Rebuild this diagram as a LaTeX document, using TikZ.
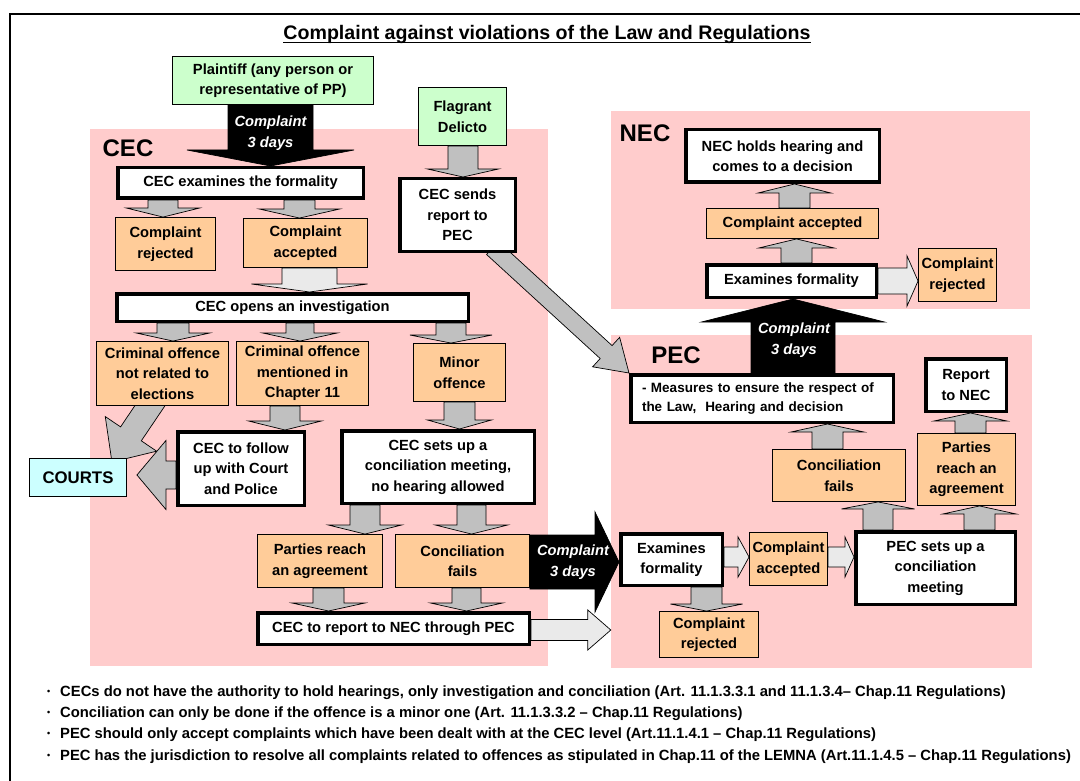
\documentclass[tikz,border=0pt]{standalone}
\usepackage{fontspec}
\setmainfont{Liberation Sans}
\usetikzlibrary{calc}
\definecolor{pinkbg}{HTML}{FFCCCC}
\definecolor{orangebox}{HTML}{FFCC99}
\definecolor{greenbox}{HTML}{CCFFCC}
\definecolor{cyanbox}{HTML}{CCFFFF}
\definecolor{grayarr}{HTML}{C0C0C0}
\definecolor{lightarr}{HTML}{EAEAEA}
\pgfdeclarelayer{regionlayer}
\pgfdeclarelayer{arrowlayer}
\pgfsetlayers{regionlayer,arrowlayer,main}
\newcommand\mainf{\fontsize{14.7}{20.5}\selectfont\bfseries}
% block arrow: style, start, end, shaft half width, head half width, head length
\newcommand\blk[6]{%
  \coordinate (bkA) at (#2);
  \coordinate (bkB) at (#3);
  \coordinate (bkH) at ($(bkB)!#6pt!(bkA)$);
  \path[#1] ($(bkA)!#4pt!90:(bkB)$) -- ($(bkH)!#4pt!90:(bkB)$) -- ($(bkH)!#5pt!90:(bkB)$)
    -- (bkB) -- ($(bkH)!#5pt!-90:(bkB)$) -- ($(bkH)!#4pt!-90:(bkB)$) -- ($(bkA)!#4pt!-90:(bkB)$) -- cycle;}
\newcommand\vblk[7]{\coordinate (bkX) at (#2,0); \blk{#1}{bkX |- #3}{bkX |- #4}{#5}{#6}{#7}}
\newcommand\hblk[7]{\coordinate (bkY) at (0,#2); \blk{#1}{bkY -| #3}{bkY -| #4}{#5}{#6}{#7}}
\newcommand\bul{\makebox[13pt][l]{\fontsize{9}{9}\selectfont\raisebox{1.5pt}{•}}}
\begin{document}
\begin{tikzpicture}[x=1pt,y=-1pt,
  sz/.style 2 args={minimum width=#1, minimum height=#2},
  tbox/.style={draw=black, line width=3.5pt, fill=white, align=center, inner sep=0pt, font=\mainf},
  obox/.style={draw=black, line width=0.9pt, fill=orangebox, align=center, inner sep=0pt, font=\mainf},
  gbox/.style={draw=black, line width=0.9pt, fill=greenbox, align=center, inner sep=0pt, font=\mainf},
  cbox/.style={draw=black, line width=0.9pt, fill=cyanbox, align=center, inner sep=0pt, font=\fontsize{16.8}{20}\selectfont\bfseries},
  garr/.style={fill=grayarr, draw=black, line width=0.7pt},
  larr/.style={fill=lightarr, draw=black, line width=0.7pt},
  barr/.style={fill=black, draw=black, line width=0.7pt},
  region/.style={fill=pinkbg, draw=none, inner sep=0pt},
  lbl/.style={font=\fontsize{24}{24}\selectfont\bfseries, inner sep=0pt},
  arrtxt/.style={text=white, font=\fontsize{14.7}{20.5}\selectfont\bfseries\itshape, align=center, inner sep=0pt},
  foot/.style={font=\fontsize{14.8}{21}\selectfont\bfseries, inner sep=0pt, anchor=base west}]
\useasboundingbox (0,0) rectangle (1080,781);

\begin{pgfonlayer}{regionlayer}
  \fill[white] (0,0) rectangle (1080,781);
  \draw[line width=2pt] (1090,14) -- (10,14) -- (10,790);
  \node[region, sz={458}{537}] (cecreg) at (319,397.5) {};
  \node[region, sz={419}{198}] (necreg) at (820.5,210) {};
  \node[region, sz={421}{333}] (pecreg) at (821.5,501.5) {};
\end{pgfonlayer}

% title
\node[anchor=base, font=\fontsize{19.6}{22}\selectfont\bfseries, inner sep=0pt] (title) at (547,40) {Complaint against violations of the Law and Regulations};
\draw[line width=1.4pt] ([yshift=-2.5pt]title.base west) -- ([yshift=-2.5pt]title.base east);

% region labels
\node[lbl] (ceclbl) at (128,148) {CEC};
\node[lbl] (neclbl) at (645,133) {NEC};
\node[lbl] (peclbl) at (676,355) {PEC};

% CEC part
\node[gbox, sz={201}{48}] (plaintiff) at (273,80.5) {Plaintiff (any person or\\representative of PP)};
\node[gbox, sz={88}{58}] (flagrant) at (462.5,116.5) {Flagrant\\Delicto};
\node[tbox, sz={245.5}{30.5}] (cecexam) at (240.5,183) {CEC examines the formality};
\node[obox, sz={100}{53}] (rej1) at (165.5,244) {Complaint\\rejected};
\node[obox, sz={124}{49}] (acc1) at (305.5,243) {Complaint\\accepted};
\node[tbox, sz={115.5}{72.5}] (cecsends) at (457.5,215) {CEC sends\\report to\\PEC};
\node[tbox, sz={351.5}{27.5}] (invest) at (292.5,307.5) {CEC opens an investigation};
\node[obox, sz={132}{64}] (crim1) at (162.5,373.5) {Criminal offence\\not related to\\elections};
\node[obox, sz={132}{64}] (crim2) at (302.5,373.5) {Criminal offence\\mentioned in\\Chapter 11};
\node[obox, sz={92}{58}] (minor) at (459.5,372.5) {Minor\\offence};
\node[tbox, sz={126.5}{73.5}] (follow) at (241,468.5) {CEC to follow\\up with Court\\and Police};
\node[tbox, sz={192.5}{72.5}] (setsup) at (438,467) {CEC sets up a\\conciliation meeting,\\no hearing allowed};
\node[cbox, sz={97}{38}] (courts) at (78,477.5) {COURTS};
\node[obox, sz={125}{53}] (parties1) at (320,561) {Parties reach\\an agreement};
\node[obox, sz={134}{53}] (fails1) at (462.5,561) {Conciliation\\fails};
\node[tbox, sz={271.5}{31.5}] (report1) at (393.5,628.5) {CEC to report to NEC through PEC};

% PEC part
\node[tbox, sz={101.5}{51.5}] (pexam) at (671.5,559.5) {Examines\\formality};
\node[obox, sz={78}{53}] (pacc) at (788.5,559) {Complaint\\accepted};
\node[tbox, sz={159.5}{72.5}] (psets) at (935.5,568) {PEC sets up a\\conciliation\\meeting};
\node[obox, sz={99}{46}] (prej) at (709,634.5) {Complaint\\rejected};
\node[obox, sz={133}{52}] (pfails) at (839,475.5) {Conciliation\\fails};
\node[obox, sz={98}{72}] (pparties) at (966.5,469.5) {Parties\\reach an\\agreement};
\node[tbox, sz={80.5}{52.5}] (preport) at (966,385) {Report\\to NEC};
\node[tbox, sz={262.5}{47.5}, text width=240pt, align=left, font=\fontsize{13.5}{19.5}\selectfont\bfseries] (measures) at (762,398.5) {- Measures to ensure the respect of\\the Law,~ Hearing and decision};

% NEC part
\node[tbox, sz={193.5}{52.5}] (nholds) at (782.5,156) {NEC holds hearing and\\comes to a decision};
\node[obox, sz={172}{30}] (nacc) at (792.5,223.5) {Complaint accepted};
\node[tbox, sz={169.5}{32.5}] (nexam) at (791.5,281) {Examines formality};
\node[obox, sz={78}{53}] (nrej) at (957.5,275) {Complaint\\rejected};

\coordinate (courtstip) at ($(courts.east)+(10,0)$);

\begin{pgfonlayer}{arrowlayer}
  \vblk{garr}{163}{cecexam.south}{rej1.north}{15}{36.5}{9}
  \vblk{garr}{299.5}{cecexam.south}{acc1.north}{15.5}{40}{9}
  \vblk{larr}{309.5}{acc1.south}{invest.north}{27.5}{58}{8}
  \vblk{garr}{463}{flagrant.south}{cecsends.north}{15}{35.5}{8}
  \vblk{garr}{173}{invest.south}{crim1.north}{16}{36.5}{8}
  \vblk{garr}{300}{invest.south}{crim2.north}{14}{37}{8}
  \vblk{garr}{451}{invest.south}{minor.north}{15}{41}{8}
  \vblk{garr}{285}{crim2.south}{follow.north}{15}{36.5}{9}
  \vblk{garr}{459.5}{minor.south}{setsup.north}{15.5}{32}{9}
  \vblk{garr}{365}{setsup.south}{parties1.north}{15}{36.5}{9}
  \vblk{garr}{471.5}{setsup.south}{fails1.north}{14.5}{36}{9}
  \vblk{garr}{328.5}{parties1.south}{report1.north}{15.5}{36.5}{8}
  \vblk{garr}{466.5}{fails1.south}{report1.north}{14.5}{36}{8}
  \blk{garr}{$(crim1.south)+(-6,-10)$}{$(courts.north east)+(-15,4)$}{12.5}{31}{34}
  \hblk{garr}{475}{follow.west}{courtstip}{14}{34.5}{29}
  \blk{garr}{$(cecsends.south)+(35,-5)$}{measures.north west}{8.8}{20}{31}
  \vblk{garr}{706.5}{pexam.south}{prej.north}{15.5}{36}{7}
  \vblk{garr}{878}{psets.north}{pfails.south}{15}{36.5}{7}
  \vblk{garr}{979.5}{psets.north}{pparties.south}{15.5}{36.5}{8}
  \vblk{garr}{827.5}{pfails.north}{measures.south}{15.5}{36.5}{8}
  \vblk{garr}{970.5}{pparties.north}{preport.south}{15.5}{36.5}{8}
  \vblk{garr}{796.5}{nexam.north}{nacc.south}{15.5}{37.5}{9}
  \vblk{garr}{794.5}{nacc.north}{nholds.south}{15.5}{36.5}{9}
  \hblk{larr}{630}{report1.east}{pecreg.west}{10.5}{20}{23}
  \hblk{larr}{557}{pexam.east}{pacc.west}{10}{20}{11}
  \hblk{larr}{557}{pacc.east}{psets.west}{10}{20}{9}
  \hblk{larr}{281}{nexam.east}{nrej.west}{13}{25}{11}
  \vblk{barr}{270.5}{plaintiff.south}{cecexam.north}{42.5}{83.5}{16}
  \hblk{barr}{562}{fails1.east}{pexam.west}{27}{50}{24}
  \vblk{barr}{793}{measures.north}{nexam.south}{42}{91.5}{23}
\end{pgfonlayer}

% texts on black arrows
\node[arrtxt] (t1) at (270.5,133) {Complaint\\3 days};
\node[arrtxt] (t2) at (573,562) {Complaint\\3 days};
\node[arrtxt] (t3) at (794,340) {Complaint\\3 days};

% footer
\node[foot] (f1) at (47,696) {\bul CECs do not have the authority to hold hearings, only investigation and conciliation (Art. 11.1.3.3.1 and 11.1.3.4– Chap.11 Regulations)};
\node[foot] (f2) at (47,717) {\bul Conciliation can only be done if the offence is a minor one (Art. 11.1.3.3.2 – Chap.11 Regulations)};
\node[foot] (f3) at (47,738) {\bul PEC should only accept complaints which have been dealt with at the CEC level (Art.11.1.4.1 – Chap.11 Regulations)};
\node[foot] (f4) at (47,760) {\bul PEC has the jurisdiction to resolve all complaints related to offences as stipulated in Chap.11 of the LEMNA (Art.11.1.4.5 – Chap.11 Regulations)};
\end{tikzpicture}
\end{document}
